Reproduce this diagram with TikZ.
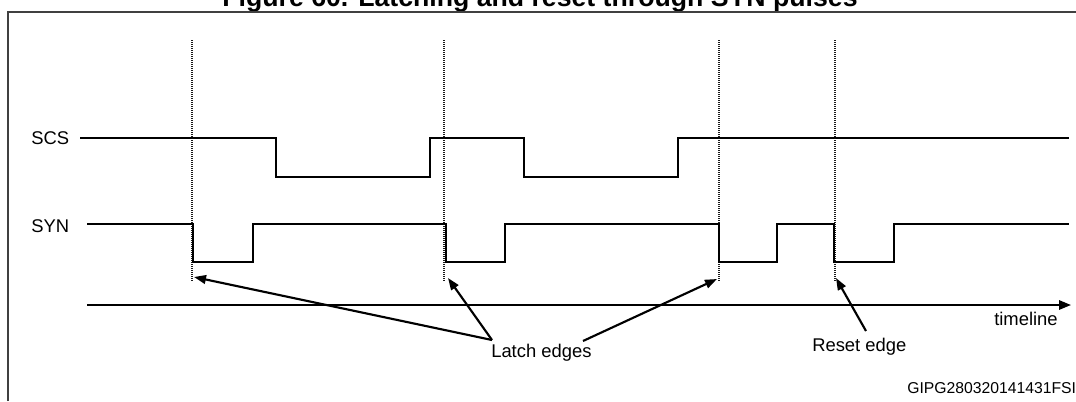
\documentclass[tikz,border=0pt]{standalone}
\usepackage{fontspec}
\setmainfont{Liberation Sans}
\usetikzlibrary{arrows.meta}
\begin{document}
\begin{tikzpicture}[x=0.75pt,y=-0.75pt,
  frame/.style={line width=1.1pt, black!75},
  sig/.style={line width=2.1pt, line join=miter, line cap=butt},
  guide/.style={line width=1.3pt, dash pattern=on 1pt off 0.5pt, black!90},
  axis/.style={line width=1.5pt, -{Triangle[length=9pt,width=7pt]}},
  ptr/.style={line width=1.6pt, -{Triangle[length=9pt,width=6.5pt]}},
  lbl/.style={font=\fontsize{13.8}{16}\selectfont, inner sep=0pt, anchor=base west},
]
\useasboundingbox (0,0) rectangle (1076,401);
% title (clipped at top)
\node[font=\bfseries\fontsize{20}{24}\selectfont, inner sep=0pt, anchor=base] (title) at (540,6) {Figure 60. Latching and reset through SYN pulses};
% frame
\draw[frame] (8,401) -- (8,12) -- (1076,12);
% guides
\foreach \n/\x in {g1/192, g2/444, g3/719, g4/835} {
  \coordinate (\n t) at (\x,40);
  \coordinate (\n b) at (\x,282);
  \draw[guide] (\n t) -- (\n b);
}
% labels
\node[lbl] (scs) at (31,144) {SCS};
\node[lbl] (syn) at (31,232) {SYN};
% signals
\draw[sig] (80,138) -- (276,138) -- (276,177) -- (430,177) -- (430,138) -- (524,138)
  -- (524,177) -- (678,177) -- (678,138) -- (1069,138);
\draw[sig] (87,224) -- (193,224) -- (193,262) -- (253,262) -- (253,224) -- (446,224)
  -- (446,262) -- (505,262) -- (505,224) -- (719,224) -- (719,262) -- (777,262)
  -- (777,224) -- (834,224) -- (834,262) -- (894,262) -- (894,224) -- (1069,224);
% timeline
\coordinate (tl0) at (87,305);
\coordinate (tl1) at (1071,305);
\draw[axis] (tl0) -- (tl1);
\node[lbl] (timeline) at (994,325) {timeline};
% annotations
\node[lbl] (latch) at (491,357) {Latch edges};
\node[lbl] (reset) at (812,351) {Reset edge};
\node[font=\fontsize{11.8}{14}\selectfont, inner sep=0pt, anchor=base west] (code) at (907,393) {GIPG280320141431FSI};
\coordinate (la) at (492,340);
\coordinate (lb) at (583,341);
\coordinate (ra) at (866,331);
\coordinate (t1) at (194,277);
\coordinate (t2) at (448,278);
\coordinate (t3) at (717,279);
\coordinate (t4) at (836,278);
\draw[ptr] (la) -- (t1);
\draw[ptr] (la) -- (t2);
\draw[ptr] (lb) -- (t3);
\draw[ptr] (ra) -- (t4);
\end{tikzpicture}
\end{document}
